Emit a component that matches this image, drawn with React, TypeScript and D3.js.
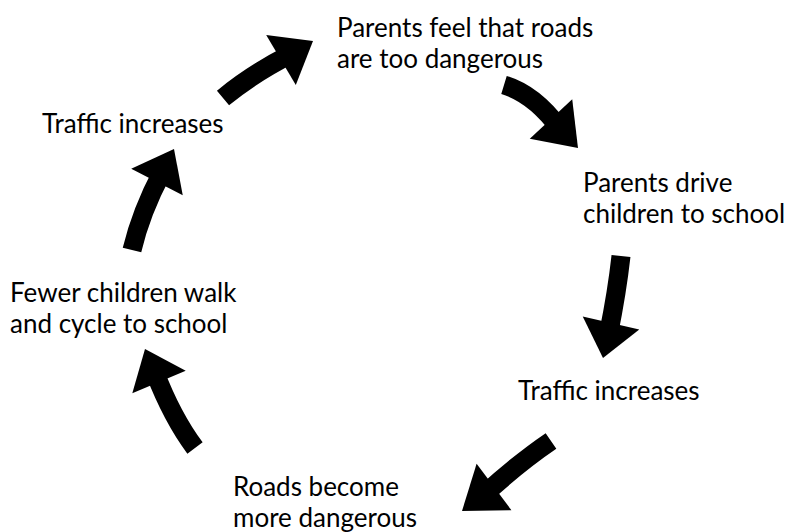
import * as d3 from 'd3';
import React, { useEffect, useRef } from 'react';

// cycle steps (text lines)
const steps: string[][] = [
  ['Parents feel that roads', 'are too dangerous'],
  ['Parents drive', 'children to school'],
  ['Traffic increases'],
  ['Roads become', 'more dangerous'],
  ['Fewer children walk', 'and cycle to school'],
  ['Traffic increases'],
];

// where each label's first baseline starts
const labelAnchors: [number, number][] = [
  [337, 37],
  [583, 192],
  [518, 400],
  [233, 496],
  [10, 302],
  [42, 133],
];

// arrows between steps: tail, bend, head base, tip
const arrows: [number, number][][] = [
  [[504, 85], [534, 94], [551, 119], [578, 148]],
  [[621, 256], [617, 292], [611, 323], [603, 358]],
  [[551, 441], [520, 462], [494, 487], [462, 511]],
  [[195, 448], [172, 417], [159, 382], [145, 349]],
  [[132, 250], [141, 212], [157, 182], [174, 149]],
  [[223, 98], [252, 74], [281, 60], [313, 41]],
];

const W = 789;
const H = 532;

export default function App() {
  const ref = useRef<SVGSVGElement | null>(null);

  useEffect(() => {
    const svg = d3.select(ref.current);
    svg.selectAll('*').remove();

    svg.append('rect').attr('width', W).attr('height', H).attr('fill', '#fff');

    // arrows
    arrows.forEach(([tail, bend, base, tip]) => {
      const p = d3.path();
      p.moveTo(tail[0], tail[1]);
      // run the shaft a little into the head so there is no gap
      p.quadraticCurveTo(bend[0], bend[1], base[0] + (tip[0] - base[0]) * 0.3, base[1] + (tip[1] - base[1]) * 0.3);
      svg
        .append('path')
        .attr('d', p.toString())
        .attr('fill', 'none')
        .attr('stroke', '#000')
        .attr('stroke-width', 19);

      const dx = tip[0] - base[0];
      const dy = tip[1] - base[1];
      const len = Math.hypot(dx, dy);
      const nx = -dy / len;
      const ny = dx / len;
      const half = 29;
      const head = d3.path();
      head.moveTo(base[0] + nx * half, base[1] + ny * half);
      head.lineTo(tip[0], tip[1]);
      head.lineTo(base[0] - nx * half, base[1] - ny * half);
      head.closePath();
      svg.append('path').attr('d', head.toString()).attr('fill', '#000');
    });

    // labels
    steps.forEach((lines, i) => {
      const [x, y] = labelAnchors[i];
      const t = svg
        .append('text')
        .attr('x', x)
        .attr('y', y)
        .attr('font-family', 'Lato, sans-serif')
        .attr('font-size', 26)
        .attr('fill', '#000');
      lines.forEach((line, j) => {
        t.append('tspan')
          .attr('x', x)
          .attr('dy', j === 0 ? 0 : 31)
          .text(line);
      });
    });
  }, []);

  return (
    <svg
      ref={ref}
      width={W}
      height={H}
      style={{ position: 'absolute', left: 0, top: 0, display: 'block' }}
    />
  );
}
